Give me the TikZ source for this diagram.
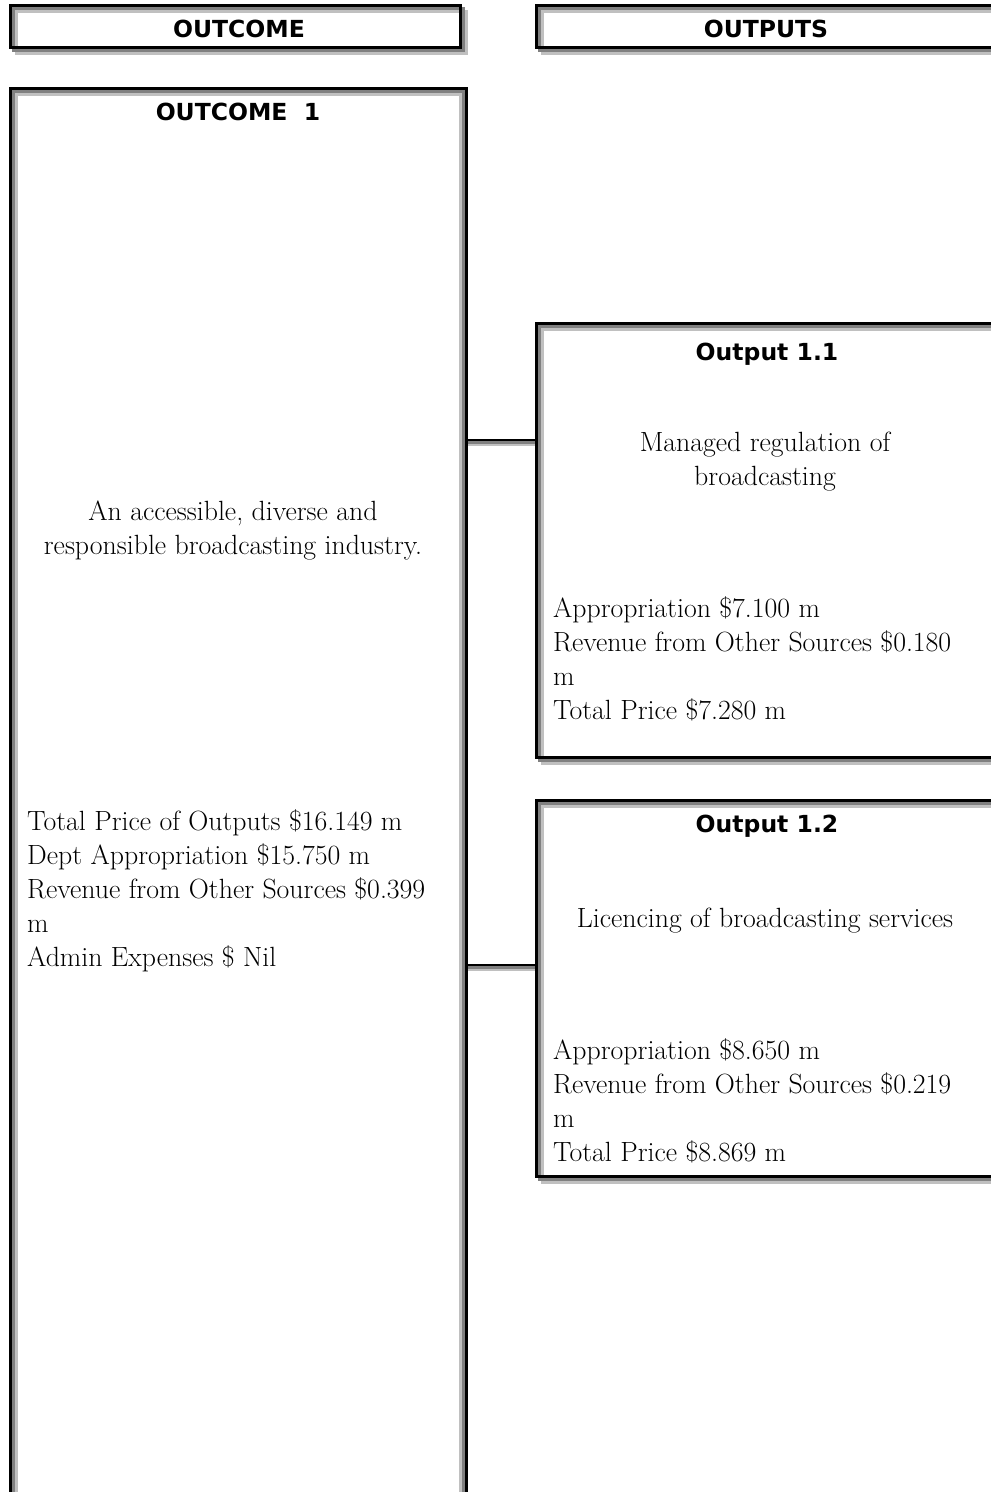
\documentclass[tikz,border=0pt]{standalone}
\usepackage{fontspec}
\newfontfamily\hdr{DejaVu Sans}
\definecolor{dg}{HTML}{808080}
\definecolor{lg}{HTML}{C0C0C0}
\tikzset{
  geom/.style={rectangle, draw=none, outer sep=0pt, inner sep=0pt},
  bk/.style={draw=black, line width=3pt},
  dgl/.style={draw=dg, line width=3pt},
  lgl/.style={draw=lg, line width=3pt},
  hd/.style={font=\hdr\bfseries\fontsize{23.5}{27}\selectfont, inner sep=0pt},
  body/.style={font=\fontsize{27.8}{34}\selectfont, inner sep=0pt},
}
\newcommand\bevelbox[1]{%
  \draw[lgl] ([shift={(6,-6)}]#1.north west) rectangle ([shift={(6,-6)}]#1.south east);
  \draw[dgl] ([shift={(3,-3)}]#1.north west) rectangle ([shift={(3,-3)}]#1.south east);
  \draw[bk] (#1.north west) rectangle (#1.south east);}
\newcommand\insetbox[1]{%
  \draw[bk] (#1.north west) rectangle (#1.south east);
  \draw[dgl] ([shift={(3,-3)}]#1.north west) rectangle ([shift={(-3,3)}]#1.south east);
  \draw[lgl] ([shift={(6,-6)}]#1.north west) rectangle ([shift={(-6,6)}]#1.south east);}
\begin{document}
\begin{tikzpicture}[x=1pt,y=1pt]
\useasboundingbox (0,0) rectangle (991,-1492);
\clip (0,0) rectangle (991,-1492);
\fill[white] (0,0) rectangle (991,-1492);
% geometry nodes
\node[geom, minimum width=450, minimum height=42] (hA) at (235,-26) {};
\node[geom, minimum width=464, minimum height=42] (hB) at (768,-26) {};
\node[geom, minimum width=456, minimum height=1412] (oc1) at (238.5,-794) {};
\node[geom, minimum width=463.5, minimum height=434] (out1) at (768.25,-540) {};
\node[geom, minimum width=463.5, minimum height=376] (out2) at (768.25,-988) {};
\coordinate (k1) at (0,-440);
\coordinate (k2) at (0,-965);
% connectors
\foreach \k/\o in {k1/out1, k2/out2}{
  \draw[draw=lg, line width=2.5pt] ([yshift=-5]oc1.east |- \k) -- ([yshift=-5]\o.west |- \k);
  \draw[draw=dg, line width=2.5pt] ([yshift=-2.5]oc1.east |- \k) -- ([yshift=-2.5]\o.west |- \k);
  \draw[draw=black, line width=2.5pt] ([xshift=-6]oc1.east |- \k) -- (\o.west |- \k);
}
% frames
\bevelbox{hA}
\bevelbox{hB}
\insetbox{oc1}
\bevelbox{out1}
\bevelbox{out2}
% texts
\node[hd] (tA) at (239,-29) {OUTCOME};
\node[hd] (tB) at (766,-29) {OUTPUTS};
\node[hd] (t1) at (238,-112) {OUTCOME\ \ 1};
\node[body, align=center] (d1) at (233,-530) {An accessible, diverse and\\responsible broadcasting industry.};
\node[body, align=left, anchor=west] (p1) at (27,-890.5) {Total Price of Outputs \$16.149 m\\Dept Appropriation \$15.750 m\\Revenue from Other Sources \$0.399\\m\\Admin Expenses \$ Nil};
\node[hd] (t11) at (767,-354) {Output 1.1};
\node[body, align=center] (d11) at (765,-462) {Managed regulation of\\broadcasting};
\node[body, align=left, anchor=west] (p11) at (553,-658.5) {Appropriation \$7.100 m\\Revenue from Other Sources \$0.180\\m\\Total Price \$7.280 m};
\node[hd] (t12) at (767,-826) {Output 1.2};
\node[body] (d12) at (765,-921) {Licencing of broadcasting services};
\node[body, align=left, anchor=west] (p12) at (553,-1101) {Appropriation \$8.650 m\\Revenue from Other Sources \$0.219\\m\\Total Price \$8.869 m};
\end{tikzpicture}
\end{document}
